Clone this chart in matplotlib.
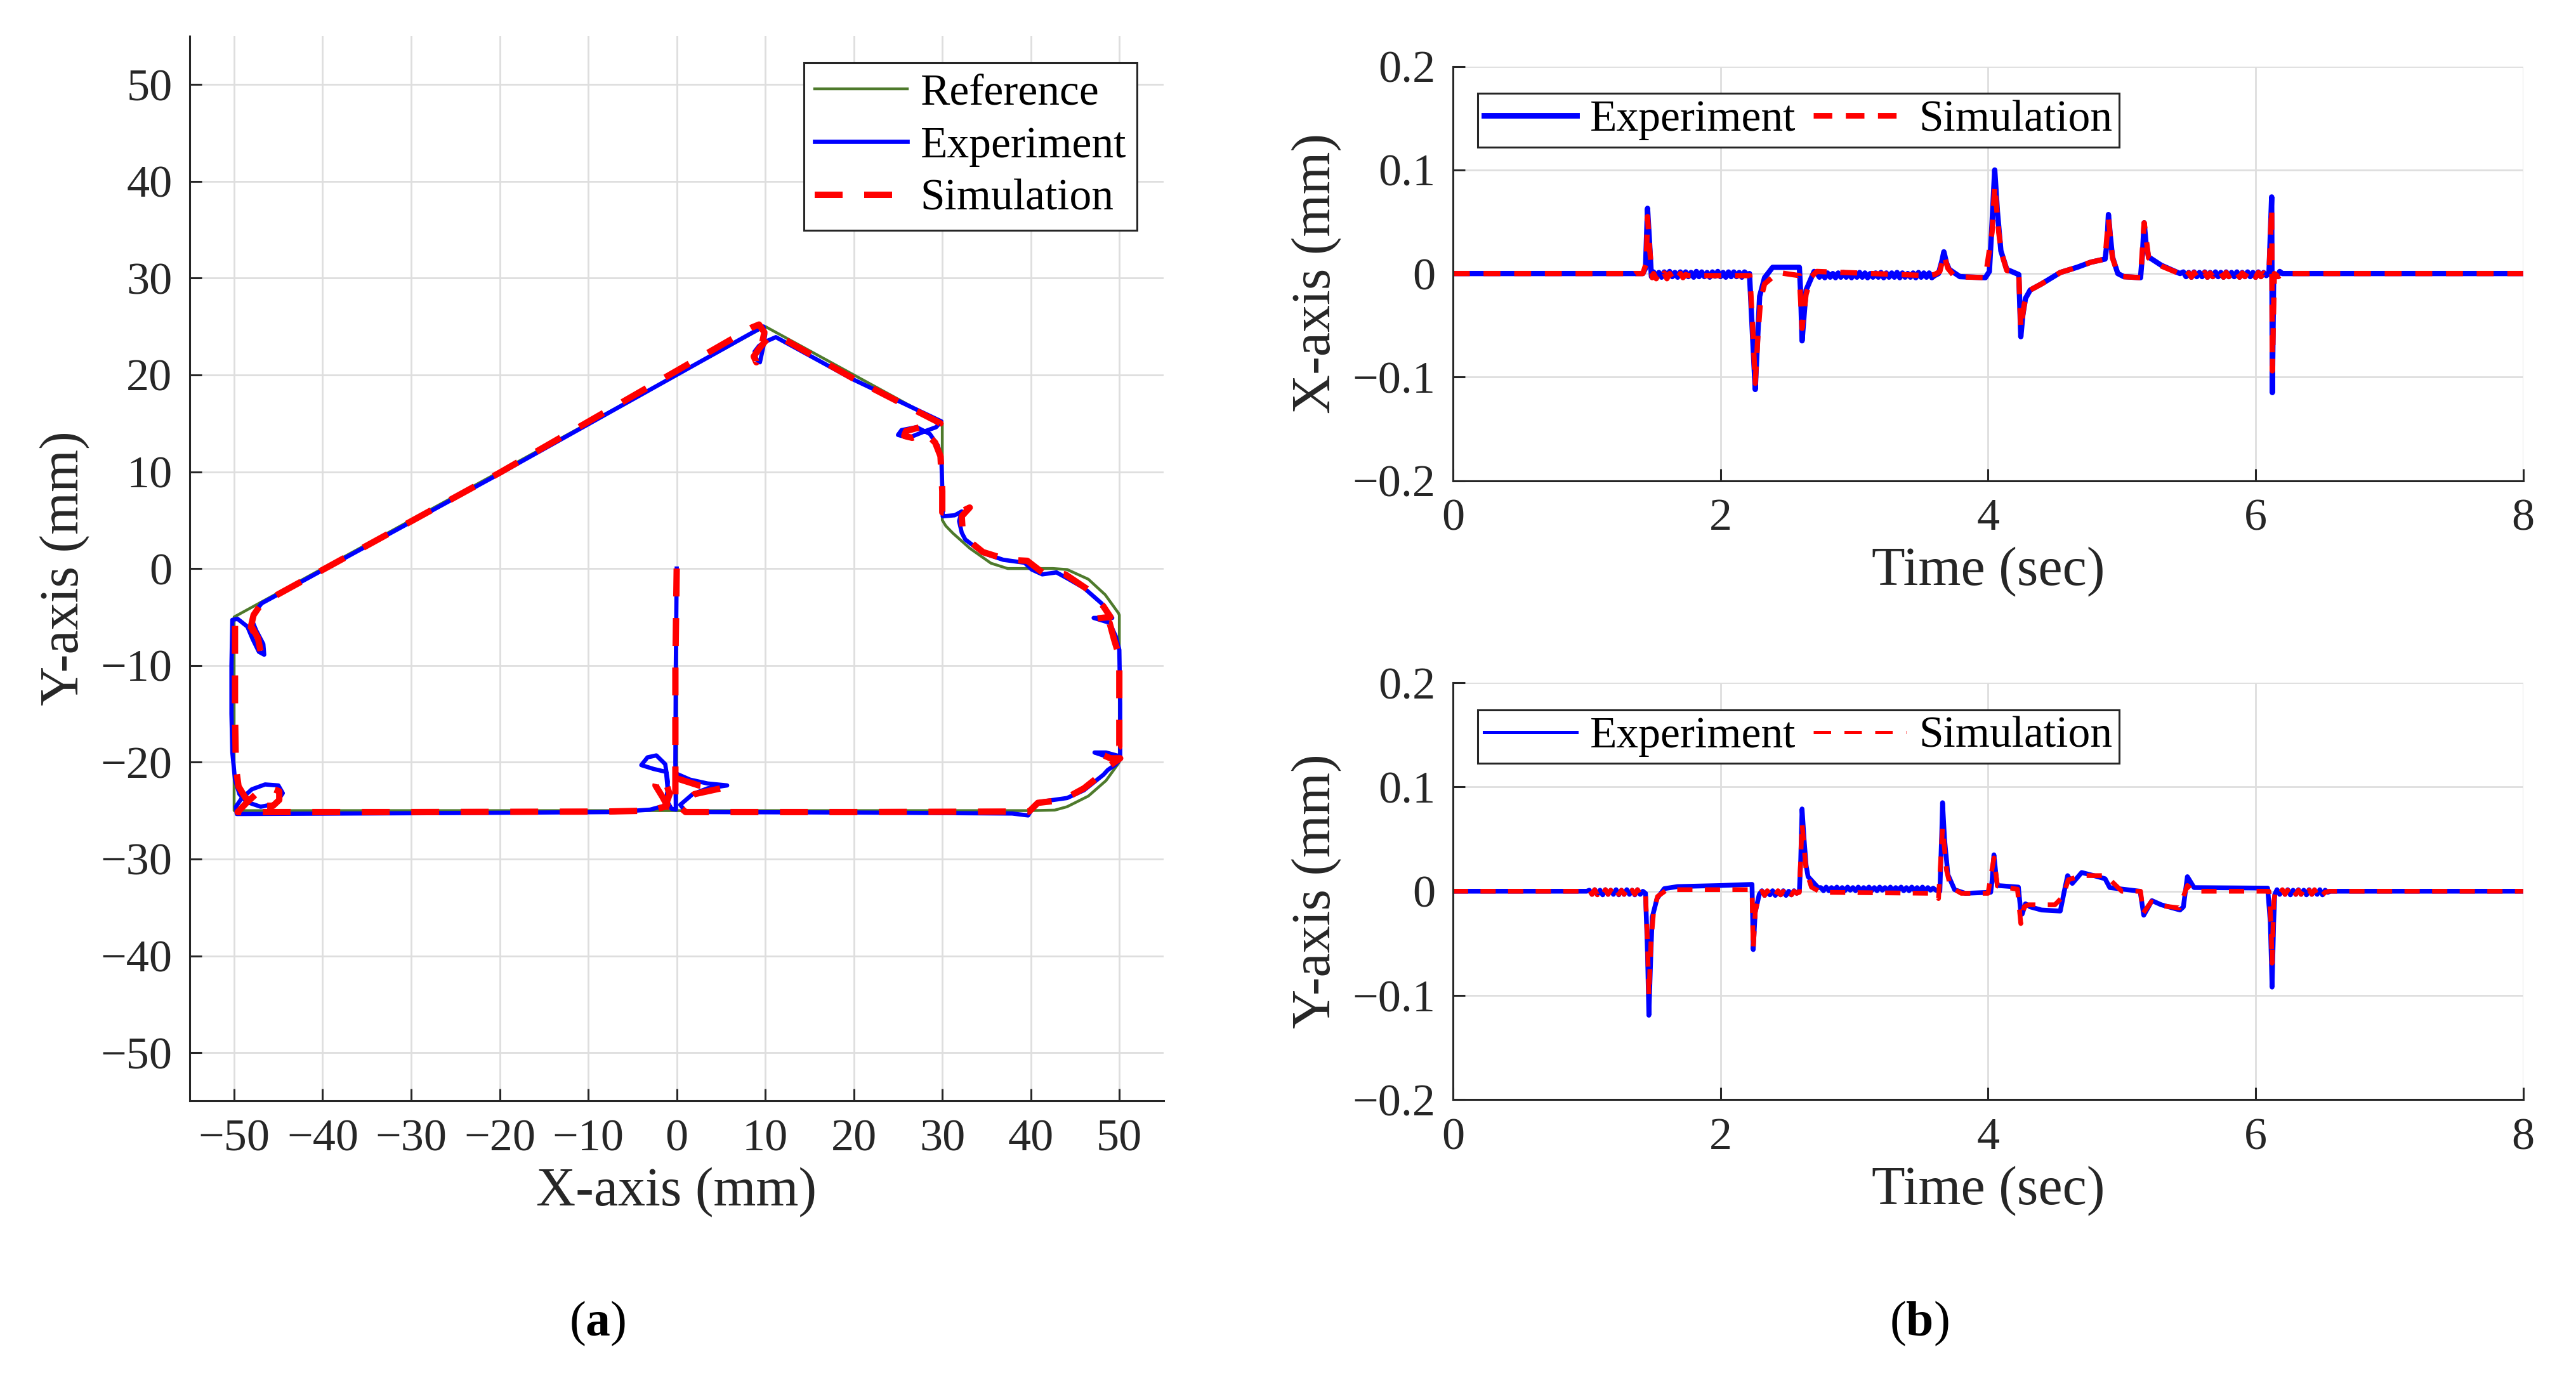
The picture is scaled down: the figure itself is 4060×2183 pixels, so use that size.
import matplotlib
matplotlib.use('Agg')
import matplotlib.pyplot as plt
from matplotlib.lines import Line2D

plt.rcParams['font.family'] = ['Liberation Serif', 'DejaVu Serif']
plt.rcParams['mathtext.fontset'] = 'custom'
plt.rcParams['mathtext.rm'] = 'Liberation Serif'
plt.rcParams['mathtext.bf'] = 'Liberation Serif:bold'

# ---------------- (a) XY trajectory ----------------
ref_x = [0, 0, 40, 42.7, 44.1, 46.5, 48.5, 50, 50, 49.9, 48.4, 46.5, 44.1, 42.5, 40, 37.4,
         35.5, 33.1, 31.2, 30.4, 30, 30, 10, -50, -50, 0]
ref_y = [0, -25, -25, -24.95, -24.6, -23.5, -21.9, -20, -4.8, -4.6, -2.7, -1.1, -0.1, 0.0, 0, 0,
         0.55, 2.1, 3.65, 4.4, 5, 15, 25, -5, -25, -25]

exp_x = [0, -0.1, -0.15, -0.1, -0.6, -1.1, -1.0, -1.3, -2.3, -3.3, -4.0, -2.6, -1.2, -1.0, -1.4,
         -3.0, -7.0, -25, -49.7,
         -49.8, -49.2, -48.0, -46.5, -45.0, -44.5, -45.3, -47.0, -48.6, -49.4, -49.9, -50.2,
         -50.3, -50.3, -50.2,
         -49.6, -48.5, -47.9, -47.2, -46.6, -46.7, -47.5, -48.0, -47.4, -46.9,
         -20, 9.0, 9.8,
         10.0, 9.8, 9.4, 9.0, 8.8, 9.3, 10.2, 11.2,
         20, 29.9,
         29.3, 28.1, 26.2, 25.0, 25.4, 27.1, 28.6, 29.5, 29.9, 30.0, 30.05,
         31.4, 32.2, 31.9, 32.2, 32.6, 34.6, 36.9, 39.3, 40.1, 41.3, 42.9, 44.1, 46.0, 48.0, 49.2,
         47.1, 48.9, 49.6, 50.0, 50.1, 50.1,
         48.5, 47.2, 48.5, 50.1, 49.5, 48.7, 48.2, 46.0, 44.1, 41.0, 40.3, 39.7, 37.9, 20, 3, 1.0,
         0.4, 1.8, 3.5, 5.7, 3.5, 1.5, 0.0]
exp_y = [0, -10, -20, -24.9, -24.8, -24.0, -22.0, -20.2, -19.3, -19.5, -20.3, -20.7, -21.0, -23.0, -24.5,
         -24.9, -25.15, -25.25, -25.35,
         -24.6, -23.8, -22.8, -22.3, -22.4, -23.2, -24.3, -24.6, -24.1, -23.3, -21.8, -19.0,
         -15, -10, -5.3,
         -5.2, -6.0, -7.3, -8.6, -8.9, -7.8, -6.4, -5.3, -4.2, -3.6,
         9.8, 24.6, 25.0,
         24.2, 23.0, 21.3, 21.6, 22.4, 23.0, 23.5, 23.9,
         19.5, 15.2,
         14.6, 14.2, 13.5, 13.8, 14.3, 14.6, 13.9, 12.7, 11.3, 8.2, 5.4,
         5.5, 5.9, 4.9, 3.7, 3.0, 1.6, 0.9, 0.6, -0.1, -0.6, -0.4, -1.0, -2.0, -3.6, -5.1,
         -5.1, -5.6, -7.0, -8.4, -14, -19.4,
         -19.0, -19.0, -19.4, -19.7, -20.3, -20.8, -21.3, -22.9, -23.7, -24.1, -24.6, -25.5, -25.3,
         -25.2, -25.15, -25.1,
         -24.4, -23.3, -22.7, -22.4, -22.2, -21.8, -21.2]

sim_x = [0, -0.15, -0.15, -1.0, -1.6, -2.4, -2.2, -1.3, -0.8, -1.3, -3.0, -8, -30, -49.6,
         -48.6, -47.3, -45.8, -44.9, -44.9, -45.6, -47.2, -48.7, -49.5, -49.8, -49.9, -49.9,
         -48.7, -47.9, -47.3, -47.0, -47.4, -48.1, -47.8, -46.9,
         -20, 8.5, 9.3,
         9.9, 9.5, 9.0, 8.7, 9.3, 10.3, 11.5,
         20, 29.8,
         28.8, 27.5, 25.9, 25.7, 26.6, 28.1, 29.2, 29.8, 30.0, 30.0,
         31.5, 33.1, 32.2, 32.3, 32.7, 34.6, 37.4, 39.6, 41.3, 43.9, 46.5, 48.2,
         49.0, 47.0, 48.9, 49.4, 50.0, 50.0,
         49.0, 48.0, 49.0, 50.1, 49.0, 48.2, 46.0, 43.6, 40.8, 39.8, 37.9, 20, 1.0,
         0.3, 2.0, 5.0, 2.5, 0.1]
sim_y = [0, -10, -24.9, -24.6, -23.6, -22.4, -21.6, -21.9, -23.3, -24.6, -25.0, -25.1, -25.15, -25.15,
         -24.2, -23.1, -22.7, -23.0, -23.9, -24.5, -24.5, -23.7, -22.5, -20.5, -15, -5.4,
         -5.5, -6.2, -7.2, -8.6, -7.3, -6.0, -4.8, -3.6,
         9.9, 24.9, 25.2,
         24.4, 22.6, 21.3, 21.9, 22.7, 23.8, 24.0,
         19.6, 15.0,
         14.5, 14.6, 14.2, 13.7, 13.5, 14.0, 13.0, 11.6, 8.0, 5.8,
         5.6, 6.3, 5.4, 3.8, 3.1, 1.7, 0.9, 0.8, -0.4, -0.6, -2.2, -3.9,
         -5.0, -5.2, -5.6, -7.3, -9.1, -18.4,
         -19.0, -19.2, -19.6, -19.6, -20.3, -21.1, -22.7, -23.9, -24.2, -25.1, -25.1, -25.15, -25.15,
         -24.6, -23.3, -22.7, -22.4, -21.7]

xy_ticks = [-50, -40, -30, -20, -10, 0, 10, 20, 30, 40, 50]
xy_labels = ['\u221250', '\u221240', '\u221230', '\u221220', '\u221210', '0',
             '10', '20', '30', '40', '50']

# ---------------- (b) tracking errors vs time ----------------
# X-axis error, experiment: main shape + small vibration bands
ex_t = [0, 1.42, 1.44, 1.455, 1.47, 1.484,
        2.217, 2.24, 2.26, 2.275, 2.293, 2.33, 2.39, 2.59, 2.60, 2.61, 2.625, 2.64, 2.70,
        3.63, 3.655, 3.67, 3.69, 3.71, 3.79, 3.98, 4.01, 4.03, 4.05,
        4.07, 4.096, 4.14, 4.23, 4.245, 4.26, 4.28, 4.315, 4.40, 4.54,
        4.665, 4.77, 4.875, 4.89, 4.90, 4.915, 4.93, 4.97, 5.015, 5.14,
        5.155, 5.167, 5.18, 5.20, 5.295, 5.435,
        6.10, 6.12, 6.125, 6.135, 6.16, 6.18, 6.20, 8.0]
ex_v = [0, 0, 0.005, 0.063, 0.03, -0.003,
        0.0, -0.06, -0.112, -0.07, -0.022, -0.004, 0.006, 0.006, -0.02, -0.065, -0.04, -0.016, 0.002,
        0.0, 0.012, 0.021, 0.01, 0.004, -0.003, -0.004, 0.002, 0.049, 0.1,
        0.06, 0.022, 0.004, -0.001, -0.061, -0.04, -0.024, -0.016, -0.010, 0.001,
        0.006, 0.011, 0.014, 0.03, 0.057, 0.035, 0.016, 0.0, -0.003, -0.004,
        0.02, 0.049, 0.03, 0.016, 0.008, 0.0,
        0.0, 0.074, -0.115, 0.0, -0.003, 0.002, 0.0, 0.0]
ex_vib_t = [1.50, 1.52, 1.54, 1.56, 1.58, 1.60, 1.62, 1.64, 1.66, 1.68, 1.70, 1.72, 1.74, 1.76,
            1.78, 1.80, 1.82, 1.84, 1.86, 1.88, 1.90, 1.92, 1.94, 1.96, 1.98, 2.00, 2.02, 2.04,
            2.06, 2.08, 2.10, 2.12, 2.14, 2.16, 2.18, 2.20,
            2.72, 2.74, 2.76, 2.78, 2.80, 2.82, 2.84, 2.86, 2.88, 2.90, 2.92, 2.94, 2.96, 2.98,
            3.00, 3.02, 3.04, 3.06, 3.08, 3.10, 3.12, 3.14, 3.16, 3.18, 3.20, 3.22, 3.24, 3.26,
            3.28, 3.30, 3.32, 3.34, 3.36, 3.38, 3.40, 3.42, 3.44, 3.46, 3.48, 3.50, 3.52, 3.54,
            3.56, 3.58, 3.60,
            5.46, 5.48, 5.50, 5.52, 5.54, 5.56, 5.58, 5.60, 5.62, 5.64, 5.66, 5.68, 5.70, 5.72,
            5.74, 5.76, 5.78, 5.80, 5.82, 5.84, 5.86, 5.88, 5.90, 5.92, 5.94, 5.96, 5.98, 6.00,
            6.02, 6.04, 6.06, 6.08]
ex_vib_v = [0.0015, -0.003, 0.001, -0.0035, 0.0015, -0.003, 0.002, -0.003, 0.001, -0.0035,
            0.0015, -0.0025, 0.0015, -0.003, 0.001, -0.0035, 0.002, -0.003, 0.0015, -0.003,
            0.001, -0.0035, 0.0015, -0.0025, 0.002, -0.003, 0.001, -0.0035, 0.0015, -0.003,
            0.0015, -0.003, 0.001, -0.0035, 0.0015, -0.001,
            0.0005, -0.0035, 0.001, -0.004, 0.0005, -0.0035, 0.0, -0.004, 0.0005, -0.0035,
            0.001, -0.0035, 0.0005, -0.004, 0.0005, -0.0035, 0.001, -0.0035, 0.0005, -0.004,
            0.0, -0.0035, 0.0005, -0.0035, 0.001, -0.004, 0.0005, -0.0035, 0.0005, -0.0035,
            0.001, -0.004, 0.0005, -0.0035, 0.0, -0.0035, 0.0005, -0.004, 0.001, -0.0035,
            0.0005, -0.0035, 0.0005, -0.004, -0.002,
            0.0015, -0.003, 0.001, -0.0035, 0.0015, -0.003, 0.001, -0.003, 0.0015, -0.0035,
            0.001, -0.003, 0.0015, -0.003, 0.001, -0.0035, 0.0015, -0.003, 0.001, -0.003,
            0.0015, -0.0035, 0.001, -0.003, 0.0015, -0.003, 0.001, -0.0035, 0.0015, -0.003,
            0.001, -0.002]

# X-axis error, simulation
sx_t = [0, 1.30, 1.33, 1.36, 1.42, 1.445, 1.455, 1.47, 1.49,
        1.76, 2.22, 2.24, 2.26, 2.28, 2.30, 2.33, 2.43, 2.59, 2.61, 2.64, 2.68, 2.72, 3.55, 3.60,
        3.64, 3.67, 3.70, 3.75, 3.98, 4.03, 4.05, 4.08, 4.10, 4.14, 4.23,
        4.245, 4.27, 4.30, 4.40, 4.54, 4.665, 4.77, 4.875, 4.90, 4.93, 4.97, 5.01, 5.14,
        5.167, 5.20, 5.30, 5.43,
        6.10, 6.12, 6.125, 6.14, 6.17, 6.20, 8.0]
sx_v = [0, 0, -0.003, 0, 0, 0.01, 0.055, 0.025, -0.004,
        -0.002, -0.002, -0.05, -0.106, -0.06, -0.025, -0.01, 0.001, -0.002, -0.053, -0.02, -0.003,
        0.002, -0.002, -0.001,
        0.002, 0.018, 0.005, -0.003, -0.004, 0.04, 0.085, 0.04, 0.02, 0.003, 0.0,
        -0.053, -0.03, -0.017, -0.010, 0.001, 0.006, 0.011, 0.014, 0.053, 0.015, 0.0, -0.003, -0.004,
        0.049, 0.015, 0.007, 0.0,
        0.0, 0.063, -0.094, 0.0, -0.003, 0.0, 0.0]
sx_vib_t = [1.50, 1.52, 1.54, 1.56, 1.58, 1.60, 1.62, 1.64, 1.66, 1.68, 1.70, 1.72, 1.74,
            5.46, 5.48, 5.50, 5.52, 5.54, 5.56, 5.58, 5.60, 5.62, 5.64, 5.66, 5.68, 5.70, 5.72,
            5.74, 5.76, 5.78, 5.80, 5.82, 5.84, 5.86, 5.88, 5.90, 5.92, 5.94, 5.96, 5.98, 6.00,
            6.02, 6.04, 6.06, 6.08]
sx_vib_v = [0.0, -0.005, 0.0, -0.0045, 0.0005, -0.005, 0.0, -0.004, 0.0, -0.0045, 0.0, -0.004, -0.001,
            0.001, -0.003, 0.0005, -0.0035, 0.001, -0.003, 0.0005, -0.003, 0.001, -0.0035, 0.0005,
            -0.003, 0.001, -0.003, 0.0005, -0.0035, 0.001, -0.003, 0.0005, -0.003, 0.001, -0.0035,
            0.0005, -0.003, 0.001, -0.003, 0.0005, -0.0035, 0.001, -0.003, 0.0005, -0.001]

# Y-axis error, experiment
ey_t = [0, 1.0,
        1.44, 1.455, 1.465, 1.48, 1.49, 1.526, 1.58, 1.68, 2.0, 2.236, 2.245, 2.26, 2.29,
        2.59, 2.60, 2.61, 2.625, 2.64, 2.655, 2.73,
        3.64, 3.655, 3.66, 3.675, 3.70, 3.75, 3.83, 4.02, 4.03, 4.044, 4.06, 4.07, 4.227,
        4.245, 4.255, 4.28, 4.315, 4.40, 4.54, 4.57, 4.595, 4.63, 4.70, 4.79, 4.875, 4.91, 5.137,
        5.164, 5.225, 5.295, 5.435, 5.46, 5.49, 5.54, 6.09,
        6.11, 6.123, 6.135, 6.143, 6.56, 8.0]
ey_v = [0, 0,
        -0.002, -0.06, -0.119, -0.06, -0.025, -0.007, 0.0025, 0.0045, 0.0055, 0.0066, -0.056, -0.02, -0.003,
        0.0, 0.03, 0.079, 0.05, 0.025, 0.014, 0.0035,
        0.0, 0.06, 0.085, 0.05, 0.016, 0.0015, -0.002, -0.001, 0.01, 0.035, 0.015, 0.0055, 0.004,
        -0.020, -0.022, -0.012, -0.015, -0.018, -0.019, 0.0, 0.015, 0.0075, 0.018, 0.015, 0.012, 0.0035, 0.0,
        -0.023, -0.009, -0.013, -0.018, -0.015, 0.014, 0.0035, 0.003,
        -0.03, -0.092, -0.03, -0.003, 0.0, 0.0]
ey_vib_t = [1.02, 1.04, 1.06, 1.08, 1.10, 1.12, 1.14, 1.16, 1.18, 1.20, 1.22, 1.24, 1.26, 1.28,
            1.30, 1.32, 1.34, 1.36, 1.38, 1.40, 1.42,
            2.31, 2.33, 2.35, 2.37, 2.39, 2.41, 2.43, 2.45, 2.47, 2.49, 2.51, 2.53, 2.55, 2.57,
            2.75, 2.77, 2.79, 2.81, 2.83, 2.85, 2.87, 2.89, 2.91, 2.93, 2.95, 2.97, 2.99, 3.01,
            3.03, 3.05, 3.07, 3.09, 3.11, 3.13, 3.15, 3.17, 3.19, 3.21, 3.23, 3.25, 3.27, 3.29,
            3.31, 3.33, 3.35, 3.37, 3.39, 3.41, 3.43, 3.45, 3.47, 3.49, 3.51, 3.53, 3.55, 3.57,
            3.59, 3.61,
            6.16, 6.18, 6.20, 6.22, 6.24, 6.26, 6.28, 6.30, 6.32, 6.34, 6.36, 6.38, 6.40, 6.42,
            6.44, 6.46, 6.48, 6.50, 6.52, 6.54]
ey_vib_v = [0.001, -0.003, 0.0015, -0.003, 0.001, -0.0035, 0.0015, -0.003, 0.001, -0.003,
            0.0015, -0.0035, 0.001, -0.003, 0.0015, -0.003, 0.001, -0.0035, 0.0015, -0.003, 0.0,
            0.0005, -0.004, 0.0, -0.0035, 0.0005, -0.004, 0.0, -0.0035, 0.0005, -0.004, 0.0,
            -0.0035, 0.0005, -0.002,
            0.0035, 0.0005, 0.004, 0.0005, 0.0035, 0.001, 0.004, 0.0005, 0.0035, 0.0005, 0.004,
            0.001, 0.0035, 0.0005, 0.004, 0.0005, 0.0035, 0.001, 0.004, 0.0005, 0.0035, 0.0005,
            0.004, 0.001, 0.0035, 0.0005, 0.004, 0.0005, 0.0035, 0.001, 0.004, 0.0005, 0.0035,
            0.0005, 0.004, 0.001, 0.0035, 0.0005, 0.004, 0.0005, 0.0035, 0.001, 0.003, 0.001,
            0.0015, -0.003, 0.001, -0.003, 0.0015, -0.0035, 0.001, -0.003, 0.0015, -0.003,
            0.001, -0.0035, 0.0015, -0.003, 0.001, -0.003, 0.0015, -0.0035, 0.001, -0.001]

# Y-axis error, simulation
sy_t = [0, 1.0, 1.44, 1.455, 1.465, 1.48, 1.50,
        1.53, 1.60, 2.236, 2.245, 2.26, 2.29, 2.59, 2.61, 2.64, 2.68,
        2.75, 3.60, 3.63, 3.66, 3.69, 3.72, 3.80, 4.00, 4.044, 4.07, 4.22, 4.245, 4.27, 4.30,
        4.50, 4.56, 4.60, 4.70, 4.88, 5.00, 5.14, 5.16, 5.22, 5.30, 5.43, 5.49, 5.53, 6.10,
        6.115, 6.123, 6.135, 6.145, 6.55, 8.0]
sy_v = [0, 0, -0.002, -0.05, -0.10, -0.05,
        -0.02, -0.005, 0.0015, 0.0015, -0.056, -0.02, -0.002, -0.001, 0.065, 0.02, 0.004,
        -0.001, -0.002, -0.007, 0.061, 0.02, 0.004, -0.002, -0.002, 0.032, 0.005, 0.002, -0.031,
        -0.015, -0.013,
        -0.013, -0.005, 0.011, 0.015, 0.015, 0.0, 0.0, -0.021, -0.01, -0.014, -0.016, 0.0055, 0.0, 0.0,
        -0.03, -0.069, -0.01, -0.003, 0.0, 0.0]
sy_vib_t = [1.02, 1.04, 1.06, 1.08, 1.10, 1.12, 1.14, 1.16, 1.18, 1.20, 1.22, 1.24, 1.26, 1.28,
            1.30, 1.32, 1.34, 1.36, 1.38, 1.40, 1.42,
            2.31, 2.33, 2.35, 2.37, 2.39, 2.41, 2.43, 2.45, 2.47, 2.49, 2.51, 2.53, 2.55, 2.57,
            6.16, 6.18, 6.20, 6.22, 6.24, 6.26, 6.28, 6.30, 6.32, 6.34, 6.36, 6.38, 6.40, 6.42,
            6.44, 6.46, 6.48, 6.50, 6.52]
sy_vib_v = [0.001, -0.003, 0.0015, -0.0035, 0.001, -0.003, 0.0015, -0.003, 0.001, -0.0035,
            0.0015, -0.003, 0.001, -0.003, 0.0015, -0.0035, 0.001, -0.003, 0.0015, -0.003, 0.0,
            0.0, -0.004, 0.0005, -0.0035, 0.0, -0.004, 0.0005, -0.0035, 0.0, -0.004, 0.0005,
            -0.0035, 0.0, -0.002,
            0.001, -0.003, 0.0015, -0.003, 0.001, -0.0035, 0.0015, -0.003, 0.001, -0.003,
            0.0015, -0.0035, 0.001, -0.003, 0.0015, -0.003, 0.001, -0.0035, -0.001]

t_ticks = [0, 2, 4, 6, 8]
err_ticks = [-0.2, -0.1, 0, 0.1, 0.2]
err_labels = ['\u22120.2', '\u22120.1', '0', '0.1', '0.2']

BLUE = '#0000FF'
RED = '#FF0000'
GREEN = '#4E7A2C'
GRID = '#DEDEDE'
INK = '#262626'
TICK_FS = 26
LABEL_FS = 31
LEG_FS = 25


def merge(t_main, v_main, t_vib, v_vib):
    pts = sorted(list(zip(t_main, v_main)) + list(zip(t_vib, v_vib)))
    return [p[0] for p in pts], [p[1] for p in pts]


def style_axes(ax):
    ax.grid(True, color=GRID, linewidth=1.0)
    ax.set_axisbelow(True)
    for side in ('top', 'right'):
        ax.spines[side].set_visible(False)
    for side in ('left', 'bottom'):
        ax.spines[side].set_color(INK)
        ax.spines[side].set_linewidth(1.1)
    ax.tick_params(direction='in', length=7, width=1.1, colors=INK,
                   labelsize=TICK_FS, labelcolor=INK, pad=10)


fig = plt.figure(figsize=(20.3, 10.915), dpi=200)

# ----- (a)
ax = fig.add_axes([0.0737, 0.205, 0.378, 0.769])
ax.plot(ref_x, ref_y, color=GREEN, linewidth=1.6, label='Reference')
ax.plot(exp_x, exp_y, color=BLUE, linewidth=2.4, label='Experiment')
ax.plot(sim_x, sim_y, color=RED, linewidth=3.6, dashes=(4.4, 3.4), label='Simulation')
ax.set_xlim(-55, 55)
ax.set_ylim(-55, 55)
ax.set_xticks(xy_ticks)
ax.set_xticklabels(xy_labels)
ax.set_yticks(xy_ticks)
ax.set_yticklabels(xy_labels)
style_axes(ax)
ax.set_xlabel('X-axis (mm)', fontsize=LABEL_FS, color=INK, labelpad=4)
ax.set_ylabel('Y-axis (mm)', fontsize=LABEL_FS, color=INK, labelpad=6)
leg = ax.legend(loc='upper right', bbox_to_anchor=(0.973, 0.975), fontsize=LEG_FS,
                fancybox=False, framealpha=1, edgecolor=INK, handlelength=2.1,
                handletextpad=0.3, borderpad=0.25, labelspacing=0.28, borderaxespad=0)
leg.get_frame().set_linewidth(1.1)

# ----- (b) top
ax1 = fig.add_axes([0.564, 0.653, 0.4155, 0.299])
t1, v1 = merge(ex_t, ex_v, ex_vib_t, ex_vib_v)
t2, v2 = merge(sx_t, sx_v, sx_vib_t, sx_vib_v)
ax1.plot(t1, v1, color=BLUE, linewidth=3.0, label='Experiment')
ax1.plot(t2, v2, color=RED, linewidth=3.0, dashes=(3.2, 2.6), label='Simulation')
# ----- (b) bottom
ax2 = fig.add_axes([0.564, 0.206, 0.4155, 0.301])
t3, v3 = merge(ey_t, ey_v, ey_vib_t, ey_vib_v)
t4, v4 = merge(sy_t, sy_v, sy_vib_t, sy_vib_v)
ax2.plot(t3, v3, color=BLUE, linewidth=2.7, label='Experiment')
ax2.plot(t4, v4, color=RED, linewidth=2.7, dashes=(3.2, 2.6), label='Simulation')

for a, ylab, lw, dsh in ((ax1, 'X-axis (mm)', 3.2, (3.3, 2.4)), (ax2, 'Y-axis (mm)', 1.8, (5.5, 4.2))):
    a.set_xlim(0, 8)
    a.set_ylim(-0.2, 0.2)
    a.set_xticks(t_ticks)
    a.set_yticks(err_ticks)
    a.set_yticklabels(err_labels)
    style_axes(a)
    a.set_xlabel('Time (sec)', fontsize=LABEL_FS, color=INK, labelpad=4)
    a.set_ylabel(ylab, fontsize=LABEL_FS, color=INK, labelpad=6)
    handles = [Line2D([], [], color=BLUE, linewidth=lw),
               Line2D([], [], color=RED, linewidth=lw, dashes=dsh)]
    lg = a.legend(handles, ['Experiment', 'Simulation'], loc='upper left',
                  bbox_to_anchor=(0.023, 0.935), ncol=2, fontsize=LEG_FS, fancybox=False,
                  framealpha=1, edgecolor=INK, handlelength=2.1, handletextpad=0.3,
                  columnspacing=0.4, borderpad=0.15, borderaxespad=0)
    lg.get_frame().set_linewidth(1.1)

fig.text(0.232, 0.027, r'($\mathbf{a}$)', fontsize=28, ha='center', va='bottom')
fig.text(0.745, 0.027, r'($\mathbf{b}$)', fontsize=28, ha='center', va='bottom')

fig.savefig('out.png', dpi=200, facecolor='white')
